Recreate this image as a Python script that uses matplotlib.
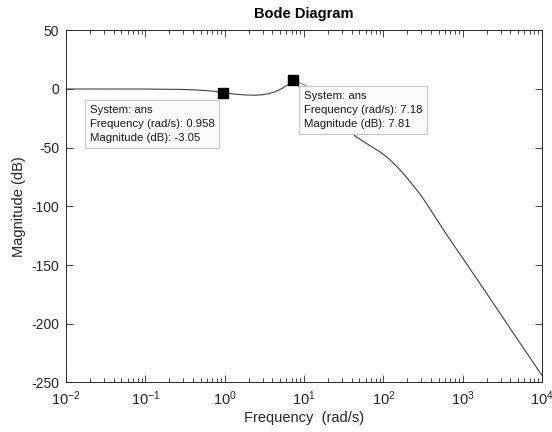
import numpy as np
import matplotlib
matplotlib.use("Agg")
import matplotlib.pyplot as plt
from matplotlib.ticker import LogLocator, NullFormatter

plt.rcParams['font.family'] = ['Liberation Sans', 'DejaVu Sans']
plt.rcParams['mathtext.fontset'] = 'custom'
plt.rcParams['mathtext.rm'] = 'Liberation Sans'
plt.rcParams['mathtext.it'] = 'Liberation Sans'
plt.rcParams['axes.unicode_minus'] = False

# magnitude response read at a set of frequencies (rad/s -> dB)
freq = [0.01, 0.1, 0.3, 0.5, 0.7, 0.958, 1.3, 1.8, 2.4, 3.0, 3.7, 4.5, 5.3, 6.2,
        6.8, 7.18, 7.6, 8.5, 10, 13, 18, 25, 35, 45, 60, 70, 90, 105, 120, 135,
        160, 185, 210, 245, 290, 330, 390, 460, 600, 700, 1000, 2000, 5000, 10000]
mag_db = [0.0, -0.05, -0.4, -1.0, -1.8, -3.05, -4.3, -5.1, -5.3, -4.9, -3.8, -1.9,
          0.5, 3.5, 6.3, 7.81, 6.8, 3.0, -3.0, -10.0, -18.0, -25.5, -33.5, -40.5,
          -46.0, -48.8, -53.5, -56.8, -60.0, -63.4, -68.5, -73.3, -77.6, -83.4,
          -89.5, -95.0, -102.5, -110.0, -122.0, -128.8, -144.0, -174.0, -214.0,
          -244.0]

# data tips
tip_freq = [0.958, 7.18]
tip_mag = [-3.05, 7.81]
tip_text_pos = [(0.0498, 0.789), (0.500, 0.8285)]
tip_link = [False, True]

yticks = [-250, -200, -150, -100, -50, 0, 50]

ink = '#262626'

fig = plt.figure(figsize=(5.52, 4.32), dpi=100)
ax = fig.add_axes([0.1196, 0.1146, 0.8623, 0.8153])

ax.semilogx(freq, mag_db, color='#404040', lw=0.8, zorder=2)
ax.set_xlim(1e-2, 1e4)
ax.set_ylim(-250, 50)
ax.set_yticks(yticks)

ax.xaxis.set_major_locator(LogLocator(base=10, numticks=10))
ax.xaxis.set_minor_locator(LogLocator(base=10, subs=np.arange(2, 10), numticks=20))
ax.xaxis.set_minor_formatter(NullFormatter())

ax.tick_params(which='both', direction='in', top=True, right=True,
               colors=ink, labelsize=10, width=0.6)
ax.tick_params(axis='x', labelsize=10.5)
ax.tick_params(which='major', length=5, pad=5)
ax.tick_params(which='minor', length=3)
for s in ax.spines.values():
    s.set_color(ink)
    s.set_linewidth(0.7)

ax.set_title('Bode Diagram', fontsize=10.5, fontweight='bold', color='black', pad=9)
ax.set_xlabel('Frequency  (rad/s)', fontsize=10.5, color=ink, labelpad=2)
ax.set_ylabel('Magnitude (dB)', fontsize=10.5, color=ink, labelpad=4)

for f, m, pos, link in zip(tip_freq, tip_mag, tip_text_pos, tip_link):
    ax.plot(f, m, 's', color='black', ms=6.5, zorder=5)
    label = f'System: ans\nFrequency (rad/s): {f:g}\nMagnitude (dB): {m:g}'
    arrow = dict(arrowstyle='-', color='#606060', lw=0.6, shrinkA=0, shrinkB=3) if link else None
    ax.annotate(label, xy=(f, m), xycoords='data',
                xytext=pos, textcoords='axes fraction',
                ha='left', va='top', fontsize=8.2, color='#1a1a1a',
                linespacing=1.55,
                bbox=dict(boxstyle='square,pad=0.4', fc='#fbfbfb', ec='#c8c8c8', lw=0.8),
                arrowprops=arrow,
                zorder=4)

fig.savefig('out.png', dpi=100)
